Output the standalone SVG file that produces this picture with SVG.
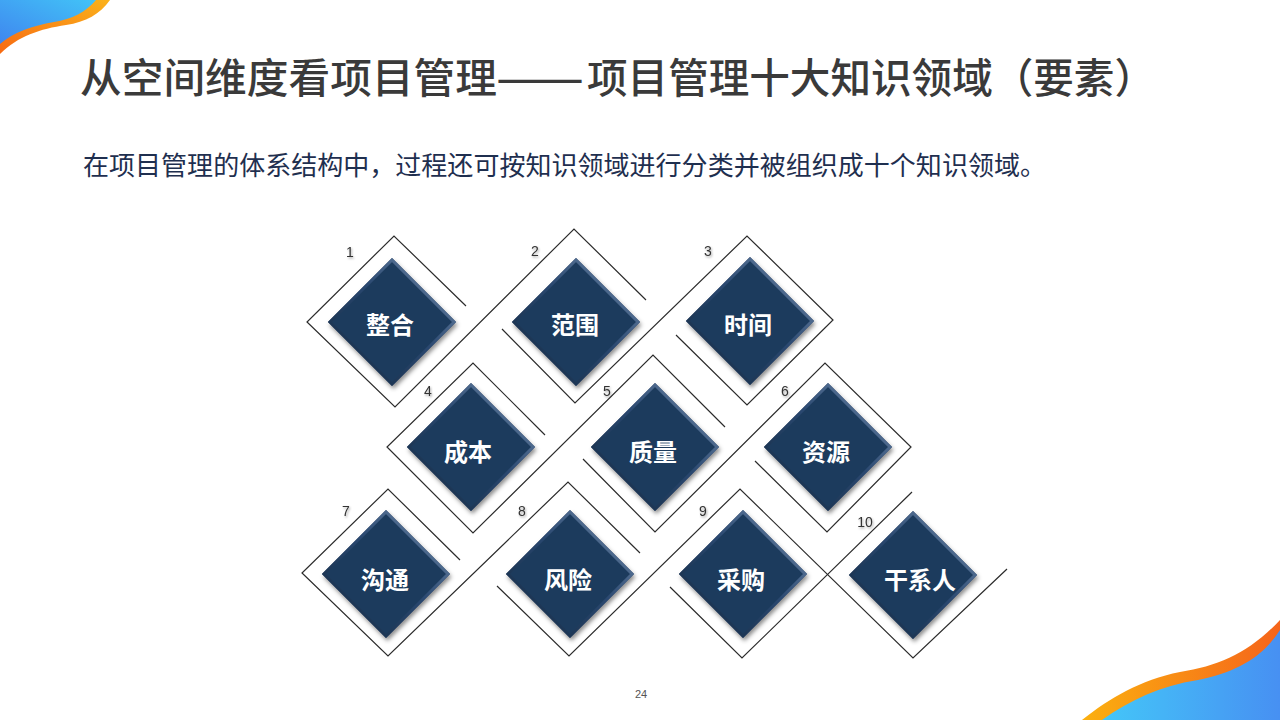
<svg xmlns="http://www.w3.org/2000/svg" xmlns:xlink="http://www.w3.org/1999/xlink" width="1280" height="720" viewBox="0 0 1280 720">
  <defs>
    <linearGradient id="blueTL" x1="0" y1="1" x2="1" y2="0">
      <stop offset="0" stop-color="#3f86ef"/>
      <stop offset="1" stop-color="#42c3f7"/>
    </linearGradient>
    <linearGradient id="orangeTL" x1="0" y1="1" x2="1" y2="0">
      <stop offset="0" stop-color="#f76a12"/>
      <stop offset="1" stop-color="#fbb21b"/>
    </linearGradient>
    <linearGradient id="blueBR" x1="0" y1="0" x2="1" y2="0">
      <stop offset="0" stop-color="#44c6f8"/>
      <stop offset="1" stop-color="#4790f2"/>
    </linearGradient>
    <linearGradient id="orangeBR" x1="0" y1="0" x2="1" y2="0">
      <stop offset="0" stop-color="#fbb00f"/>
      <stop offset="1" stop-color="#f5641b"/>
    </linearGradient>
    <linearGradient id="bevel" x1="1" y1="0" x2="0" y2="1">
      <stop offset="0" stop-color="#7690b0"/>
      <stop offset="0.45" stop-color="#2a4870"/>
      <stop offset="1" stop-color="#12283f"/>
    </linearGradient>
    <filter id="shadow" x="-20%" y="-20%" width="140%" height="140%">
      <feDropShadow dx="1.5" dy="3" stdDeviation="2.2" flood-color="#000" flood-opacity="0.45"/>
    </filter>
    <filter id="numShadow" x="-50%" y="-50%" width="200%" height="200%">
      <feDropShadow dx="1" dy="1.5" stdDeviation="1.2" flood-color="#000" flood-opacity="0.35"/>
    </filter>
    <path id="dia" d="M0,-64 L64,0 L0,64 L-64,0Z"/>
    <path id="diaIn" d="M0,-62 L62,0 L0,62 L-62,0Z"/>
  </defs>
  <style>
    .title { font-family: "Noto Sans CJK SC", "Noto Sans", sans-serif; font-size: 41px; font-weight: 500; fill: #3a3a3a; }
    .sub { font-family: "Noto Sans CJK SC", "Noto Sans", sans-serif; font-size: 26px; fill: #1f2f4f; }
    .lbl { font-family: "Noto Sans CJK SC", "Noto Sans", sans-serif; font-size: 24px; font-weight: bold; fill: #ffffff; text-anchor: middle; }
    .num { font-family: "Liberation Sans", "Noto Sans", sans-serif; font-size: 14px; fill: #333333; text-anchor: middle; filter: url(#numShadow); }
    .page { font-family: "Liberation Sans", sans-serif; font-size: 11px; fill: #555555; text-anchor: middle; }
    .ol { fill: none; stroke: #2b2b2b; stroke-width: 1.2; stroke-linejoin: miter; }
    .body { fill: #1f3b5d; filter: url(#shadow); }
    .bev { fill: none; stroke: url(#bevel); stroke-width: 3; }
  </style>

  <rect x="0" y="0" width="1280" height="720" fill="#ffffff"/>

  <!-- corner decorations -->
  <g id="corner-tl">
    <path d="M0,0 L110,0 C100,14 86,22 66,25 C40,29 18,36 0,54 Z" fill="url(#orangeTL)"/>
    <path d="M0,0 L96,0 C86,12 72,19 54,22 C32,26 14,32 0,44 Z" fill="url(#blueTL)"/>
  </g>
  <g id="corner-br">
    <path d="M1082,720 C1110,698 1140,680 1180,672 C1220,666 1250,652 1280,620 L1280,720 Z" fill="url(#orangeBR)"/>
    <path d="M1102,720 C1130,700 1160,686 1198,680 C1236,672 1262,658 1280,630 L1280,720 Z" fill="url(#blueBR)"/>
  </g>

  <!-- title & subtitle -->
  <text class="title" y="93"><tspan x="80" textLength="417" lengthAdjust="spacingAndGlyphs">从空间维度看项目管理</tspan><tspan x="496" textLength="88" lengthAdjust="spacingAndGlyphs">——</tspan><tspan x="587" textLength="568" lengthAdjust="spacingAndGlyphs">项目管理十大知识领域（要素）</tspan></text>
  <text class="sub" x="83" y="175" textLength="963" lengthAdjust="spacingAndGlyphs">在项目管理的体系结构中，过程还可按知识领域进行分类并被组织成十个知识领域。</text>

  <!-- outline connectors -->
  <g id="connectors">
    <polyline class="ol" points="466,306 394,236 307,322 395,407 574,229 646,300"/>
    <polyline class="ol" points="502,329 575,403 747,236 833,320 747,405 676,335"/>
    <polyline class="ol" points="545,435 473,363 387,447 473,533 653,355 725,427"/>
    <polyline class="ol" points="583,459 655,532 825,363 911,447 827,532 755,461"/>
    <polyline class="ol" points="460,560 388,489 302,573 388,656 568,482 640,553"/>
    <polyline class="ol" points="497,586 569,656 740,489 913,658 1007,569"/>
    <polyline class="ol" points="670,587 742,658 912,492"/>
  </g>

  <!-- nodes -->
  <g id="n1" transform="translate(392,322)">
    <use href="#dia" class="body"/><use href="#diaIn" class="bev"/>
    <text class="lbl" x="-2" y="12">整合</text>
  </g>
  <g id="n2" transform="translate(576,322)">
    <use href="#dia" class="body"/><use href="#diaIn" class="bev"/>
    <text class="lbl" x="-1" y="12">范围</text>
  </g>
  <g id="n3" transform="translate(750,321)">
    <use href="#dia" class="body"/><use href="#diaIn" class="bev"/>
    <text class="lbl" x="-2" y="13">时间</text>
  </g>
  <g id="n4" transform="translate(471,447)">
    <use href="#dia" class="body"/><use href="#diaIn" class="bev"/>
    <text class="lbl" x="-3" y="14">成本</text>
  </g>
  <g id="n5" transform="translate(655,447)">
    <use href="#dia" class="body"/><use href="#diaIn" class="bev"/>
    <text class="lbl" x="-2" y="14">质量</text>
  </g>
  <g id="n6" transform="translate(828,447)">
    <use href="#dia" class="body"/><use href="#diaIn" class="bev"/>
    <text class="lbl" x="-2" y="14">资源</text>
  </g>
  <g id="n7" transform="translate(386,574)">
    <use href="#dia" class="body"/><use href="#diaIn" class="bev"/>
    <text class="lbl" x="-1" y="15">沟通</text>
  </g>
  <g id="n8" transform="translate(570,574)">
    <use href="#dia" class="body"/><use href="#diaIn" class="bev"/>
    <text class="lbl" x="-2" y="15">风险</text>
  </g>
  <g id="n9" transform="translate(743,574)">
    <use href="#dia" class="body"/><use href="#diaIn" class="bev"/>
    <text class="lbl" x="-2" y="15">采购</text>
  </g>
  <g id="n10" transform="translate(913,575)">
    <use href="#dia" class="body"/><use href="#diaIn" class="bev"/>
    <text class="lbl" x="7" y="14">干系人</text>
  </g>

  <!-- numbers -->
  <g id="numbers">
    <text class="num" x="350" y="257">1</text>
    <text class="num" x="535" y="256">2</text>
    <text class="num" x="708" y="256">3</text>
    <text class="num" x="428" y="396">4</text>
    <text class="num" x="607" y="396">5</text>
    <text class="num" x="785" y="396">6</text>
    <text class="num" x="346" y="516">7</text>
    <text class="num" x="522" y="516">8</text>
    <text class="num" x="703" y="516">9</text>
    <text class="num" x="865" y="527">10</text>
  </g>

  <text class="page" x="641" y="698">24</text>
</svg>
